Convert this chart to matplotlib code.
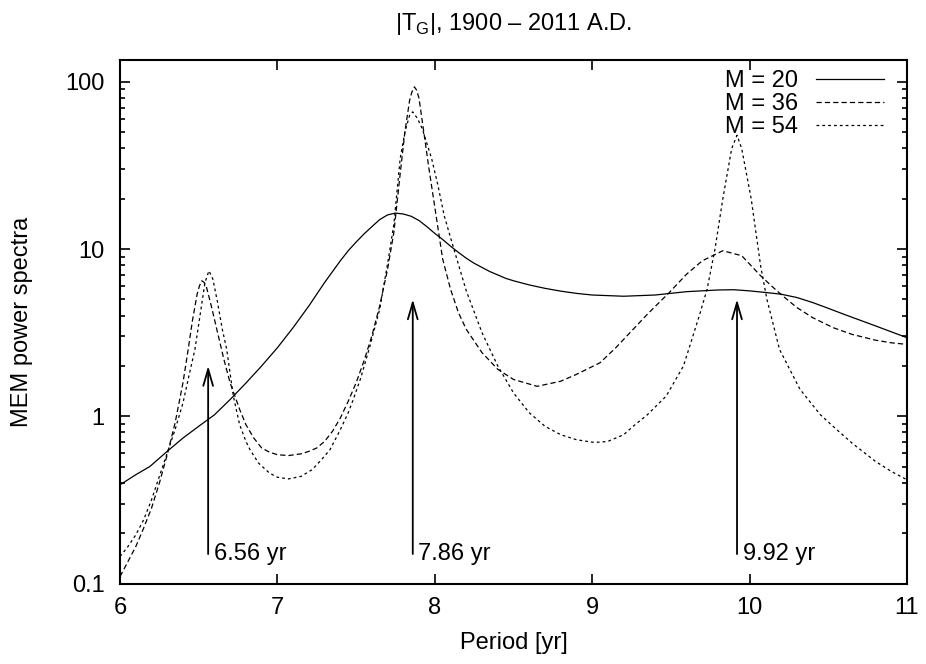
import matplotlib
matplotlib.use("Agg")
import matplotlib.pyplot as plt
from matplotlib.ticker import FixedLocator, FixedFormatter, LogLocator, NullFormatter, NullLocator

# ---------------- data ----------------
period_m20 = [6.0, 6.1, 6.19, 6.3, 6.4, 6.5, 6.6, 6.7, 6.8, 6.9, 7.0, 7.1, 7.2, 7.3,
              7.40, 7.45, 7.50, 7.55, 7.60, 7.65, 7.70, 7.75, 7.80, 7.85, 7.90, 7.95,
              8.00, 8.05, 8.10, 8.15, 8.20, 8.25, 8.30, 8.35, 8.40, 8.45, 8.50, 8.6,
              8.7, 8.8, 8.9, 9.0, 9.2, 9.4, 9.6, 9.8, 9.9, 10.0, 10.1, 10.2, 10.3,
              10.4, 10.5, 10.6, 10.8, 11.0]
power_m20 = [0.389, 0.447, 0.501, 0.617, 0.741, 0.871, 1.02, 1.26, 1.58, 2.00, 2.57, 3.39,
             4.57, 6.31, 8.51, 9.77, 11.0, 12.3, 13.6, 15.0, 16.0, 16.4, 16.2, 15.7, 14.8,
             13.6, 12.4, 11.4, 10.4, 9.55, 8.81, 8.22, 7.76, 7.33, 7.00, 6.68, 6.46, 6.10,
             5.82, 5.60, 5.43, 5.31, 5.22, 5.31, 5.56, 5.69, 5.71, 5.62, 5.50, 5.37, 5.13,
             4.79, 4.42, 4.07, 3.47, 2.95]

period_m36 = [6.00, 6.05, 6.10, 6.15, 6.20, 6.25, 6.30, 6.35, 6.40, 6.43, 6.46, 6.49, 6.505,
              6.52, 6.535, 6.55, 6.58, 6.62, 6.66, 6.70, 6.73, 6.76, 6.80, 6.85, 6.90, 6.95,
              7.00, 7.07, 7.15, 7.20, 7.25, 7.30, 7.35, 7.40, 7.45, 7.50, 7.55, 7.60,
              7.65, 7.70, 7.74, 7.78, 7.81, 7.84, 7.855, 7.87, 7.885, 7.90, 7.93, 7.96, 8.00,
              8.05, 8.10, 8.15, 8.20, 8.30, 8.40, 8.50, 8.65, 8.80, 8.90, 9.05, 9.15, 9.26,
              9.35, 9.49, 9.60, 9.70, 9.83, 9.95, 10.07, 10.15, 10.21, 10.30, 10.40, 10.53,
              10.65, 10.80, 10.90, 11.00]
power_m36 = [0.110, 0.135, 0.166, 0.214, 0.282, 0.398, 0.589, 0.912, 1.585, 2.40, 3.72, 5.37,
             6.03, 6.46, 6.31, 5.89, 4.57, 3.16, 2.19, 1.58, 1.32, 1.10, 0.891, 0.741, 0.646,
             0.610, 0.589, 0.582, 0.596, 0.617, 0.646, 0.708, 0.813, 0.977, 1.23, 1.585,
             2.14, 3.02, 4.57, 7.59, 12.6, 28.2, 50.1, 77.6, 87.1, 93.3, 89.1, 79.4, 50.1,
             31.6, 17.8, 8.71, 5.75, 4.17, 3.31, 2.40, 1.91, 1.66, 1.51, 1.62, 1.78, 2.09,
             2.57, 3.31, 4.07, 5.50, 7.08, 8.51, 9.77, 9.12, 6.92, 5.89, 5.25, 4.47, 3.89,
             3.39, 3.09, 2.85, 2.75, 2.69]

period_m54 = [6.00, 6.05, 6.10, 6.15, 6.20, 6.25, 6.30, 6.35, 6.40, 6.44, 6.476, 6.508, 6.54,
              6.565, 6.59, 6.62, 6.65, 6.678, 6.72, 6.76, 6.80, 6.826, 6.88, 6.95, 7.00, 7.07,
              7.15, 7.22, 7.28, 7.334, 7.40, 7.45, 7.482, 7.53, 7.588, 7.65, 7.705, 7.74,
              7.78, 7.81, 7.84, 7.86, 7.89, 7.92, 7.95, 7.98, 8.02, 8.06, 8.10, 8.14, 8.20,
              8.30, 8.40, 8.50, 8.60, 8.70, 8.80, 8.90, 9.00, 9.05, 9.10, 9.20, 9.26, 9.35,
              9.47, 9.58, 9.68, 9.73, 9.78, 9.83, 9.886, 9.92, 9.95, 10.01, 10.07, 10.11,
              10.19, 10.32, 10.45, 10.53, 10.65, 10.80, 10.90, 11.00]
power_m54 = [0.145, 0.166, 0.195, 0.240, 0.316, 0.437, 0.603, 0.832, 1.20, 1.78, 2.51, 3.98,
             6.31, 7.41, 6.61, 4.79, 3.31, 2.51, 1.32, 0.891, 0.708, 0.631, 0.525, 0.457,
             0.432, 0.422, 0.437, 0.479, 0.550, 0.631, 0.832, 1.05, 1.26, 1.70, 2.63, 4.37,
             8.71, 14.1, 34.7, 50.1, 63.1, 66.1, 60.3, 52.5, 42.7, 34.7, 24.0, 15.8, 11.7,
             8.71, 5.62, 3.16, 2.00, 1.38, 1.05, 0.871, 0.776, 0.724, 0.700, 0.700, 0.708,
             0.776, 0.871, 1.02, 1.32, 2.00, 3.98, 5.75, 10.0, 20.0, 39.8, 47.9, 39.8, 20.0,
             7.94, 5.01, 2.51, 1.45, 1.02, 0.871, 0.692, 0.537, 0.468, 0.417]

series_labels = ["M = 20", "M = 36", "M = 54"]

peak_periods = [6.56, 7.86, 9.92]
peak_labels = ["6.56 yr", "7.86 yr", "9.92 yr"]
arrow_tips = [2.0, 5.0, 5.0]
arrow_base = 0.15

x_ticks = [6, 7, 8, 9, 10, 11]
y_ticks = [0.1, 1, 10, 100]
y_tick_labels = ["0.1", "1", "10", "100"]

# ---------------- figure ----------------
plt.rcParams["font.family"] = ["Liberation Sans", "DejaVu Sans"]
plt.rcParams["mathtext.fontset"] = "custom"
plt.rcParams["mathtext.rm"] = "Liberation Sans"
plt.rcParams["lines.scale_dashes"] = False
FS = 17

W, H = 926, 664
fig = plt.figure(figsize=(W / 100, H / 100), dpi=100)
left, right, top, bottom = 120, 907, 60, 583.5
ax = fig.add_axes([left / W, 1 - bottom / H, (right - left) / W, (bottom - top) / H])

l1, = ax.plot(period_m20, power_m20, color="black", lw=0.9, linestyle="-")
l2, = ax.plot(period_m36, power_m36, color="black", lw=0.9, linestyle=(0, (3.8, 2.2)))
l3, = ax.plot(period_m54, power_m54, color="black", lw=0.9, linestyle=(0, (2.0, 2.2)))

ax.set_yscale("log")
ax.set_xlim(6, 11)
ax.set_ylim(0.1, 135)

for xp, lab, tip in zip(peak_periods, peak_labels, arrow_tips):
    ax.annotate("", xy=(xp, tip), xytext=(xp, arrow_base),
                arrowprops=dict(arrowstyle="->,head_length=1.2,head_width=0.35",
                                lw=1.3, color="black", shrinkA=0, shrinkB=0,
                                mutation_scale=10))
    ax.annotate(lab, xy=(xp, arrow_base), xytext=(4, 0), textcoords="offset points",
                ha="left", va="center", fontsize=FS)

ax.xaxis.set_major_locator(FixedLocator(x_ticks))
ax.xaxis.set_minor_locator(NullLocator())
ax.set_xticklabels([str(v) for v in x_ticks])
ax.yaxis.set_major_locator(FixedLocator(y_ticks))
ax.yaxis.set_major_formatter(FixedFormatter(y_tick_labels))
ax.yaxis.set_minor_locator(LogLocator(base=10, subs=range(2, 10)))
ax.yaxis.set_minor_formatter(NullFormatter())

ax.tick_params(which="both", direction="in", top=True, right=True, width=1.2,
               labelsize=FS, colors="black")
ax.tick_params(which="major", length=7)
ax.tick_params(which="minor", length=3.5)
ax.tick_params(axis="x", pad=10)
ax.tick_params(axis="y", pad=11)
for s in ax.spines.values():
    s.set_linewidth(1.5)

ax.legend([l1, l2, l3], series_labels, loc="upper right",
          bbox_to_anchor=(884 / W, 1 - 70 / H), bbox_transform=fig.transFigure,
          frameon=False, markerfirst=False, handlelength=2.9, handletextpad=0.75,
          labelspacing=0.05, borderpad=0, borderaxespad=0, fontsize=FS)

fig.text((left + right) / 2 / W, 1 - 24 / H,
         r"|T$_{\mathregular{G}}$|, 1900 – 2011 A.D.",
         ha="center", va="center", fontsize=FS)
fig.text(22 / W, 1 - (top + bottom) / 2 / H, "MEM power spectra", rotation=90,
         ha="center", va="center", fontsize=FS)
fig.text((left + right) / 2 / W, 1 - 643 / H, "Period [yr]",
         ha="center", va="center", fontsize=FS)

fig.savefig("out.png", dpi=100)
